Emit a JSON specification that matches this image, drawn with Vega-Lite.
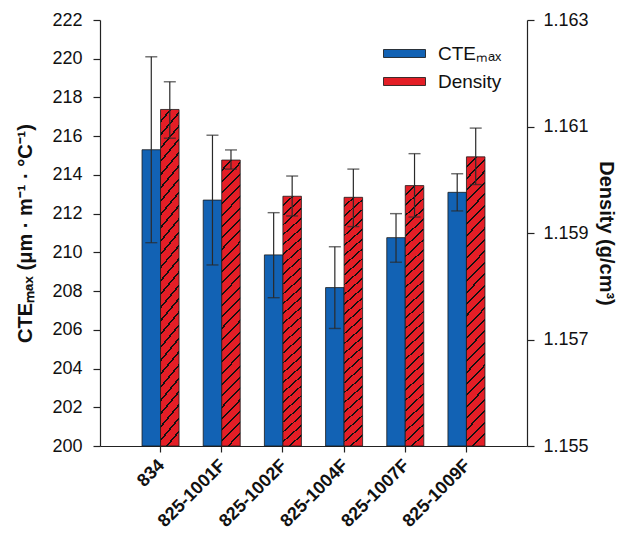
{
  "$schema": "https://vega.github.io/schema/vega-lite/v6.json",
  "autosize": {"type": "none"},
  "width": 427,
  "height": 426,
  "padding": {"left": 100, "top": 20, "right": 94, "bottom": 91},
  "background": "white",
  "config": {
    "view": {"stroke": null},
    "font": "Liberation Sans",
    "axis": {
      "domainColor": "#222222",
      "tickColor": "#222222",
      "labelColor": "#111111",
      "titleColor": "#111111",
      "labelFont": "Liberation Sans",
      "titleFont": "Liberation Sans",
      "labelFontSize": 18,
      "titleFontSize": 20,
      "titleFontWeight": "bold",
      "tickSize": 7,
      "grid": false,
      "domainWidth": 1.2,
      "tickWidth": 1.2
    }
  },
  "datasets": {
    "cte": [
      {"sample": "834", "series": "CTEₘₐₓ", "value": 215.3, "lo": 210.5, "hi": 220.1},
      {"sample": "825-1001F", "series": "CTEₘₐₓ", "value": 212.7, "lo": 209.35, "hi": 216.05},
      {"sample": "825-1002F", "series": "CTEₘₐₓ", "value": 209.87, "lo": 207.66, "hi": 212.05},
      {"sample": "825-1004F", "series": "CTEₘₐₓ", "value": 208.18, "lo": 206.07, "hi": 210.29},
      {"sample": "825-1007F", "series": "CTEₘₐₓ", "value": 210.76, "lo": 209.49, "hi": 212.0},
      {"sample": "825-1009F", "series": "CTEₘₐₓ", "value": 213.1, "lo": 212.14, "hi": 214.06}
    ],
    "density": [
      {"sample": "834", "series": "Density", "value": 1.16132, "lo": 1.16078, "hi": 1.16184},
      {"sample": "825-1001F", "series": "Density", "value": 1.16037, "lo": 1.1602, "hi": 1.16056},
      {"sample": "825-1002F", "series": "Density", "value": 1.15969, "lo": 1.15932, "hi": 1.16007},
      {"sample": "825-1004F", "series": "Density", "value": 1.15967, "lo": 1.15912, "hi": 1.1602},
      {"sample": "825-1007F", "series": "Density", "value": 1.15989, "lo": 1.1593, "hi": 1.16049},
      {"sample": "825-1009F", "series": "Density", "value": 1.16043, "lo": 1.15991, "hi": 1.16097}
    ]
  },
  "encoding": {
    "x": {
      "field": "sample",
      "type": "nominal",
      "sort": null,
      "scale": {"domain": ["834", "825-1001F", "825-1002F", "825-1004F", "825-1007F", "825-1009F"], "paddingInner": 0.395, "paddingOuter": 0.687},
      "axis": {"title": null, "labelAngle": -45, "labelFontWeight": "bold", "labelFontSize": 18, "labelPadding": 4, "labelOffset": -5, "tickSize": 6}
    },
    "xOffset": {
      "field": "series",
      "type": "nominal",
      "scale": {"domain": ["CTEₘₐₓ", "Density"], "paddingInner": 0, "paddingOuter": 0}
    }
  },
  "layer": [
    {
      "data": {"name": "cte"},
      "encoding": {
        "y": {
          "field": "value",
          "type": "quantitative",
          "scale": {"domain": [200, 222], "zero": false, "nice": false},
          "axis": {"orient": "left", "title": "CTEₘₐₓ (μm · m⁻¹ · °C⁻¹)", "values": [200, 202, 204, 206, 208, 210, 212, 214, 216, 218, 220, 222], "labelPadding": 11, "titlePadding": 16}
        }
      },
      "layer": [
        {
          "mark": {"type": "bar", "stroke": "#1a1a1a", "strokeWidth": 0.8},
          "encoding": {
            "y2": {"datum": 200},
            "fill": {
              "field": "series",
              "type": "nominal",
              "scale": {"domain": ["CTEₘₐₓ", "Density"], "range": ["#1262b4", "#e41e26"]},
              "legend": {
                "title": null,
                "orient": "none",
                "legendX": 293.5,
                "legendY": 22.5,
                "padding": 0,
                "symbolType": "M-2,-0.38H2V0.38H-2Z",
                "symbolSize": 441,
                "symbolStrokeColor": "#111111",
                "symbolStrokeWidth": 0.8,
                "symbolOpacity": 1,
                "labelFontSize": 19,
                "labelFont": "Liberation Sans",
                "labelColor": "#111111",
                "labelOffset": 22.5,
                "rowPadding": 7
              }
            }
          }
        },
        {
          "mark": {"type": "rule", "color": "#2a2a2a", "strokeWidth": 1.2},
          "encoding": {"y": {"field": "lo", "type": "quantitative"}, "y2": {"field": "hi"}}
        },
        {
          "mark": {"type": "tick", "orient": "horizontal", "color": "#2a2a2a", "size": 12, "thickness": 1.4},
          "encoding": {"y": {"field": "lo", "type": "quantitative"}}
        },
        {
          "mark": {"type": "tick", "orient": "horizontal", "color": "#2a2a2a", "size": 12, "thickness": 1.4},
          "encoding": {"y": {"field": "hi", "type": "quantitative"}}
        }
      ]
    },
    {
      "data": {"name": "density"},
      "encoding": {
        "y": {
          "field": "value",
          "type": "quantitative",
          "scale": {"domain": [1.155, 1.163], "zero": false, "nice": false},
          "axis": {"orient": "right", "title": "Density (g/cm³)", "values": [1.155, 1.157, 1.159, 1.161, 1.163], "format": ".3f", "labelPadding": 9, "titlePadding": 7}
        }
      },
      "layer": [
        {
          "mark": {
            "type": "bar",
            "stroke": "#1a1a1a",
            "strokeWidth": 0.8,
            "fill": {"gradient": "linear", "x1": 0, "y1": 0, "x2": 0.07, "y2": 1.061, "stops": [
              {"offset": 0, "color": "#e41e26"}, {"offset": 0.03037, "color": "#e41e26"}, {"offset": 0.03037, "color": "#111111"}, {"offset": 0.03704, "color": "#111111"},
              {"offset": 0.03704, "color": "#e41e26"}, {"offset": 0.06741, "color": "#e41e26"}, {"offset": 0.06741, "color": "#111111"}, {"offset": 0.07407, "color": "#111111"},
              {"offset": 0.07407, "color": "#e41e26"}, {"offset": 0.10444, "color": "#e41e26"}, {"offset": 0.10444, "color": "#111111"}, {"offset": 0.11111, "color": "#111111"},
              {"offset": 0.11111, "color": "#e41e26"}, {"offset": 0.14148, "color": "#e41e26"}, {"offset": 0.14148, "color": "#111111"}, {"offset": 0.14815, "color": "#111111"},
              {"offset": 0.14815, "color": "#e41e26"}, {"offset": 0.17852, "color": "#e41e26"}, {"offset": 0.17852, "color": "#111111"}, {"offset": 0.18519, "color": "#111111"},
              {"offset": 0.18519, "color": "#e41e26"}, {"offset": 0.21556, "color": "#e41e26"}, {"offset": 0.21556, "color": "#111111"}, {"offset": 0.22222, "color": "#111111"},
              {"offset": 0.22222, "color": "#e41e26"}, {"offset": 0.25259, "color": "#e41e26"}, {"offset": 0.25259, "color": "#111111"}, {"offset": 0.25926, "color": "#111111"},
              {"offset": 0.25926, "color": "#e41e26"}, {"offset": 0.28963, "color": "#e41e26"}, {"offset": 0.28963, "color": "#111111"}, {"offset": 0.2963, "color": "#111111"},
              {"offset": 0.2963, "color": "#e41e26"}, {"offset": 0.32667, "color": "#e41e26"}, {"offset": 0.32667, "color": "#111111"}, {"offset": 0.33333, "color": "#111111"},
              {"offset": 0.33333, "color": "#e41e26"}, {"offset": 0.3637, "color": "#e41e26"}, {"offset": 0.3637, "color": "#111111"}, {"offset": 0.37037, "color": "#111111"},
              {"offset": 0.37037, "color": "#e41e26"}, {"offset": 0.40074, "color": "#e41e26"}, {"offset": 0.40074, "color": "#111111"}, {"offset": 0.40741, "color": "#111111"},
              {"offset": 0.40741, "color": "#e41e26"}, {"offset": 0.43778, "color": "#e41e26"}, {"offset": 0.43778, "color": "#111111"}, {"offset": 0.44444, "color": "#111111"},
              {"offset": 0.44444, "color": "#e41e26"}, {"offset": 0.47481, "color": "#e41e26"}, {"offset": 0.47481, "color": "#111111"}, {"offset": 0.48148, "color": "#111111"},
              {"offset": 0.48148, "color": "#e41e26"}, {"offset": 0.51185, "color": "#e41e26"}, {"offset": 0.51185, "color": "#111111"}, {"offset": 0.51852, "color": "#111111"},
              {"offset": 0.51852, "color": "#e41e26"}, {"offset": 0.54889, "color": "#e41e26"}, {"offset": 0.54889, "color": "#111111"}, {"offset": 0.55556, "color": "#111111"},
              {"offset": 0.55556, "color": "#e41e26"}, {"offset": 0.58593, "color": "#e41e26"}, {"offset": 0.58593, "color": "#111111"}, {"offset": 0.59259, "color": "#111111"},
              {"offset": 0.59259, "color": "#e41e26"}, {"offset": 0.62296, "color": "#e41e26"}, {"offset": 0.62296, "color": "#111111"}, {"offset": 0.62963, "color": "#111111"},
              {"offset": 0.62963, "color": "#e41e26"}, {"offset": 0.66, "color": "#e41e26"}, {"offset": 0.66, "color": "#111111"}, {"offset": 0.66667, "color": "#111111"},
              {"offset": 0.66667, "color": "#e41e26"}, {"offset": 0.69704, "color": "#e41e26"}, {"offset": 0.69704, "color": "#111111"}, {"offset": 0.7037, "color": "#111111"},
              {"offset": 0.7037, "color": "#e41e26"}, {"offset": 0.73407, "color": "#e41e26"}, {"offset": 0.73407, "color": "#111111"}, {"offset": 0.74074, "color": "#111111"},
              {"offset": 0.74074, "color": "#e41e26"}, {"offset": 0.77111, "color": "#e41e26"}, {"offset": 0.77111, "color": "#111111"}, {"offset": 0.77778, "color": "#111111"},
              {"offset": 0.77778, "color": "#e41e26"}, {"offset": 0.80815, "color": "#e41e26"}, {"offset": 0.80815, "color": "#111111"}, {"offset": 0.81481, "color": "#111111"},
              {"offset": 0.81481, "color": "#e41e26"}, {"offset": 0.84519, "color": "#e41e26"}, {"offset": 0.84519, "color": "#111111"}, {"offset": 0.85185, "color": "#111111"},
              {"offset": 0.85185, "color": "#e41e26"}, {"offset": 0.88222, "color": "#e41e26"}, {"offset": 0.88222, "color": "#111111"}, {"offset": 0.88889, "color": "#111111"},
              {"offset": 0.88889, "color": "#e41e26"}, {"offset": 0.91926, "color": "#e41e26"}, {"offset": 0.91926, "color": "#111111"}, {"offset": 0.92593, "color": "#111111"},
              {"offset": 0.92593, "color": "#e41e26"}, {"offset": 0.9563, "color": "#e41e26"}, {"offset": 0.9563, "color": "#111111"}, {"offset": 0.96296, "color": "#111111"},
              {"offset": 0.96296, "color": "#e41e26"}, {"offset": 1, "color": "#e41e26"}
            ]}
          },
          "encoding": {"y2": {"datum": 1.155}}
        },
        {
          "mark": {"type": "rule", "color": "#2a2a2a", "strokeWidth": 1.2},
          "encoding": {"y": {"field": "lo", "type": "quantitative"}, "y2": {"field": "hi"}}
        },
        {
          "mark": {"type": "tick", "orient": "horizontal", "color": "#2a2a2a", "size": 12, "thickness": 1.4},
          "encoding": {"y": {"field": "lo", "type": "quantitative"}}
        },
        {
          "mark": {"type": "tick", "orient": "horizontal", "color": "#2a2a2a", "size": 12, "thickness": 1.4},
          "encoding": {"y": {"field": "hi", "type": "quantitative"}}
        }
      ]
    }
  ],
  "resolve": {"scale": {"y": "independent"}}
}
